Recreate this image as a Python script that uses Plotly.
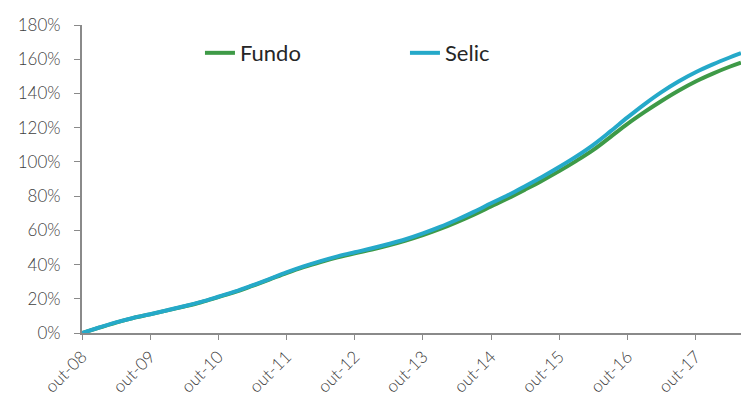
import plotly.graph_objects as go

dates = [
    "2008-10-01", "2009-01-01", "2009-04-01", "2009-07-01", "2009-10-01",
    "2010-01-01", "2010-04-01", "2010-07-01", "2010-10-01",
    "2011-01-01", "2011-04-01", "2011-07-01", "2011-10-01",
    "2012-01-01", "2012-04-01", "2012-07-01", "2012-10-01",
    "2013-01-01", "2013-04-01", "2013-07-01", "2013-10-01",
    "2014-01-01", "2014-04-01", "2014-07-01", "2014-10-01",
    "2015-01-01", "2015-04-01", "2015-07-01", "2015-10-01",
    "2016-01-01", "2016-04-01", "2016-07-01", "2016-10-01",
    "2017-01-01", "2017-04-01", "2017-07-01", "2017-10-01",
    "2018-01-01", "2018-04-01", "2018-06-01",
]

selic = [
    0.0, 3.2, 6.2, 8.8, 11.0,
    13.3, 15.6, 18.2, 21.2,
    24.3, 27.8, 31.5, 35.4,
    38.9, 42.0, 44.8, 47.2,
    49.5, 52.0, 54.8, 58.2,
    62.0, 66.2, 70.8, 75.8,
    80.6, 85.8, 91.2, 97.0,
    103.2, 110.0, 117.8, 126.0,
    133.8, 140.8, 147.0, 152.4,
    157.0, 161.0, 163.5,
]

fundo = [
    0.0, 3.1, 6.1, 8.7, 10.9,
    13.2, 15.5, 18.0, 21.0,
    24.0, 27.5, 31.2, 35.0,
    38.5, 41.5, 44.2, 46.6,
    48.8, 51.2, 54.0, 57.2,
    60.8, 64.8, 69.2, 74.0,
    78.8, 83.8, 89.0, 94.6,
    100.6, 107.0, 114.5, 122.2,
    129.2, 135.6, 141.6, 147.0,
    151.6, 155.6, 158.0,
]

tick_dates = ["2008-10-01", "2009-10-01", "2010-10-01", "2011-10-01", "2012-10-01",
              "2013-10-01", "2014-10-01", "2015-10-01", "2016-10-01", "2017-10-01"]
tick_labels = ["out-08", "out-09", "out-10", "out-11", "out-12",
               "out-13", "out-14", "out-15", "out-16", "out-17"]

y_ticks = [0, 20, 40, 60, 80, 100, 120, 140, 160, 180]
y_labels = [f"{v}%" for v in y_ticks]

fig = go.Figure()
fig.add_trace(go.Scatter(x=dates, y=fundo, name="Fundo", mode="lines",
                         line=dict(color="#3E9A47", width=4, shape="spline")))
fig.add_trace(go.Scatter(x=dates, y=selic, name="Selic", mode="lines",
                         line=dict(color="#25A9C9", width=4, shape="spline")))

axis_color = "#8a8a8a"
ytick_font = dict(family="Lato", size=17, color="#3f3f3f", weight=300)
xtick_font = dict(family="Lato", size=17, color="#3f3f3f", weight=300)

fig.update_layout(
    width=741, height=403,
    margin=dict(l=82, r=0, t=25, b=70),
    paper_bgcolor="white", plot_bgcolor="white",
    showlegend=True,
    legend=dict(orientation="h", x=0.179, xanchor="left", y=0.909, yanchor="middle",
                font=dict(family="Lato", size=22, color="#262626"),
                entrywidth=160, entrywidthmode="pixels",
                bgcolor="rgba(0,0,0,0)"),
    xaxis=dict(type="date", range=["2008-10-01", "2018-06-01"],
               tickmode="array", tickvals=tick_dates, ticktext=tick_labels,
               tickangle=-45, tickfont=xtick_font, automargin=False,
               showline=True, linecolor=axis_color, linewidth=2,
               ticks="outside", ticklen=5, tickcolor=axis_color, tickwidth=1,
               showgrid=False, zeroline=False),
    yaxis=dict(range=[0, 180], tickmode="array", tickvals=y_ticks, ticktext=y_labels,
               tickfont=ytick_font, automargin=False, ticklabelstandoff=10,
               showline=True, linecolor=axis_color, linewidth=2,
               ticks="outside", ticklen=6, tickcolor=axis_color, tickwidth=1,
               showgrid=False, zeroline=False),
)

fig.write_html("out.html", config={"displayModeBar": False},
               post_script="document.body.style.margin='0';document.body.style.overflow='hidden';")
